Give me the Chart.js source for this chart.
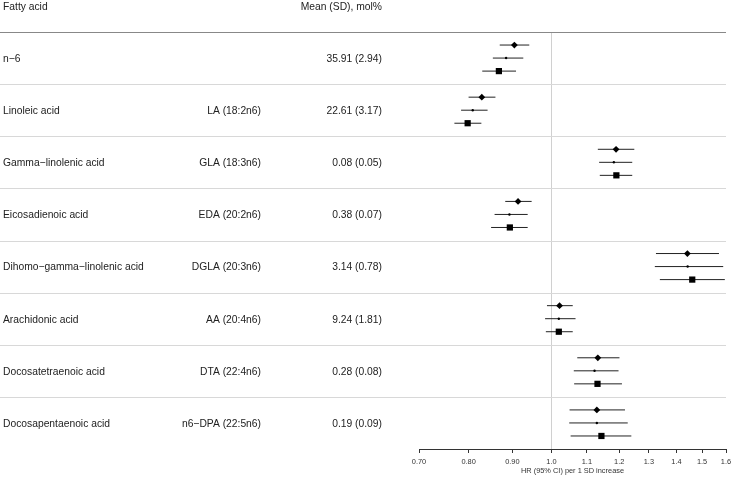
<!DOCTYPE html>
<html>
<head>
<meta charset="utf-8">
<script src="https://cdn.jsdelivr.net/npm/chart.js@4.4.0/dist/chart.umd.min.js"></script>
<style>
  body { margin: 0; background: #fff; }
</style>
</head>
<body>
<canvas id="forest" width="733" height="477"></canvas>
<script>
// row texts
const names = ["n\u22126", "Linoleic acid", "Gamma\u2212linolenic acid", "Eicosadienoic acid",
  "Dihomo\u2212gamma\u2212linolenic acid", "Arachidonic acid", "Docosatetraenoic acid", "Docosapentaenoic acid"];
const abbrevs = ["", "LA (18:2n6)", "GLA (18:3n6)", "EDA (20:2n6)", "DGLA (20:3n6)",
  "AA (20:4n6)", "DTA (22:4n6)", "n6\u2212DPA (22:5n6)"];
const means = ["35.91 (2.94)", "22.61 (3.17)", "0.08 (0.05)", "0.38 (0.07)", "3.14 (0.78)",
  "9.24 (1.81)", "0.28 (0.08)", "0.19 (0.09)"];

// HR estimates (three models per fatty acid)
const diamondEst = [0.905, 0.829, 1.190, 0.914, 1.442, 1.022, 1.133, 1.130];
const diamondLo  = [0.870, 0.800, 1.133, 0.883, 1.325, 0.988, 1.072, 1.050];
const diamondHi  = [0.942, 0.860, 1.250, 0.948, 1.570, 1.059, 1.201, 1.219];
const dotEst = [0.885, 0.809, 1.183, 0.893, 1.443, 1.020, 1.123, 1.130];
const dotLo  = [0.854, 0.784, 1.137, 0.858, 1.321, 0.983, 1.062, 1.049];
const dotHi  = [0.927, 0.842, 1.243, 0.938, 1.588, 1.067, 1.198, 1.228];
const squareEst = [0.868, 0.798, 1.191, 0.894, 1.461, 1.020, 1.132, 1.144];
const squareLo  = [0.830, 0.770, 1.139, 0.850, 1.339, 0.985, 1.063, 1.053];
const squareHi  = [0.909, 0.828, 1.243, 0.938, 1.595, 1.059, 1.209, 1.240];

// x axis ticks
const tickVals = [0.7, 0.8, 0.9, 1.0, 1.1, 1.2, 1.3, 1.4, 1.5, 1.6];
const tickLabels = ["0.70", "0.80", "0.90", "1.0", "1.1", "1.2", "1.3", "1.4", "1.5", "1.6"];

const offsets = [0.25, 0.5, 0.75];

function points(est, k) {
  return est.map((v, i) => ({x: v, y: i + offsets[k]}));
}
function ciLine(lo, hi, k) {
  let out = [];
  lo.forEach((l, i) => {
    out.push({x: l, y: i + offsets[k]});
    out.push({x: hi[i], y: i + offsets[k]});
    out.push({x: hi[i], y: null});
  });
  return out;
}
function ciSet(lo, hi, k) {
  return {type: 'line', data: ciLine(lo, hi, k), borderColor: '#222', borderWidth: 1,
    pointRadius: 0, spanGaps: false, fill: false, order: 2};
}

const textFont = '10.3px "Liberation Sans", Arial, sans-serif';

// table text, separators and the reference line
const tablePlugin = {
  id: 'table',
  beforeDatasetsDraw(chart) {
    const c = chart.ctx, area = chart.chartArea;
    const xs = chart.scales.x, ys = chart.scales.y;
    c.save();
    // reference line at HR = 1
    const x1 = Math.round(xs.getPixelForValue(1)) + 0.5;
    c.strokeStyle = '#d0d0d0';
    c.lineWidth = 1;
    c.beginPath();
    c.moveTo(x1, area.top);
    c.lineTo(x1, area.bottom);
    c.stroke();
    // row separators
    for (let i = 1; i < names.length; i++) {
      const y = Math.round(ys.getPixelForValue(i)) + 0.5;
      c.strokeStyle = '#d8d8d8';
      c.lineWidth = 1.2;
      c.beginPath();
      c.moveTo(0, y);
      c.lineTo(area.right, y);
      c.stroke();
    }
    // header rule
    const yh = Math.round(ys.getPixelForValue(0)) + 0.5;
    c.strokeStyle = '#888';
    c.lineWidth = 1.2;
    c.beginPath();
    c.moveTo(0, yh);
    c.lineTo(area.right, yh);
    c.stroke();
    c.restore();
  },
  afterDraw(chart) {
    const c = chart.ctx, ys = chart.scales.y;
    c.save();
    c.font = textFont;
    c.fillStyle = '#222';
    c.textBaseline = 'middle';
    c.textAlign = 'left';
    c.fillText('Fatty acid', 3, 7.5);
    c.textAlign = 'right';
    c.fillText('Mean (SD), mol%', 382, 7.5);
    names.forEach((n, i) => {
      const y = ys.getPixelForValue(i + 0.5) + 1;
      c.textAlign = 'left';
      c.fillText(n, 3, y);
      c.textAlign = 'right';
      c.fillText(abbrevs[i], 261, y);
      c.fillText(means[i], 382, y);
    });
    c.restore();
  }
};

const ctx = document.getElementById('forest').getContext('2d');
const forest = new Chart(ctx, {
  type: 'scatter',
  data: {
    datasets: [
      ciSet(diamondLo, diamondHi, 0),
      ciSet(dotLo, dotHi, 1),
      ciSet(squareLo, squareHi, 2),
      {data: points(diamondEst, 0), pointStyle: 'rectRot', pointRadius: 3.4,
        backgroundColor: '#000', borderColor: '#000', borderWidth: 0, order: 1},
      {data: points(dotEst, 1), pointStyle: 'circle', pointRadius: 1.2,
        backgroundColor: '#000', borderColor: '#000', borderWidth: 0, order: 1},
      {data: points(squareEst, 2), pointStyle: 'rect', pointRadius: 4.4,
        backgroundColor: '#000', borderColor: '#000', borderWidth: 0, order: 1}
    ]
  },
  options: {
    responsive: false,
    animation: false,
    layout: {padding: {left: 419, right: 7, top: 32, bottom: 0}},
    plugins: {legend: {display: false}, tooltip: {enabled: false}},
    scales: {
      x: {
        type: 'logarithmic',
        min: 0.7,
        max: 1.6,
        afterBuildTicks: (scale) => { scale.ticks = tickVals.map(v => ({value: v})); },
        afterFit: (scale) => {
          scale.height = 28;
          scale.paddingLeft = 0;
          scale.paddingRight = 0;
        },
        ticks: {
          autoSkip: false,
          maxRotation: 0,
          padding: 5,
          color: '#333',
          font: {family: '"Liberation Sans", Arial, sans-serif', size: 7.4},
          callback: (v, i) => tickLabels[i]
        },
        grid: {display: true, drawOnChartArea: false, drawTicks: true, tickLength: 4, color: '#333'},
        border: {display: true, color: '#333', width: 1},
        title: {
          display: true,
          text: 'HR (95% CI) per 1 SD increase',
          color: '#333',
          font: {family: '"Liberation Sans", Arial, sans-serif', size: 7.4},
          padding: {top: 0, bottom: 2}
        }
      },
      y: {
        type: 'linear',
        display: false,
        reverse: true,
        min: 0,
        max: 8
      }
    }
  },
  plugins: [tablePlugin]
});
</script>
</body>
</html>
